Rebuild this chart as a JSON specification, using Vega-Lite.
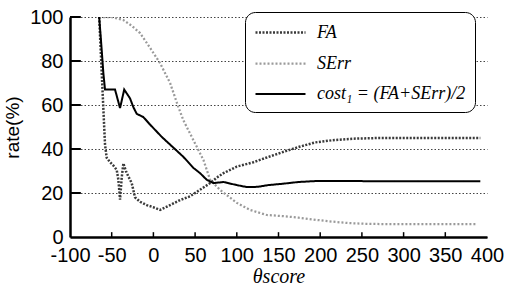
{
  "$schema": "https://vega.github.io/schema/vega-lite/v6.json",
  "width": 417,
  "height": 220,
  "autosize": "none",
  "padding": {"left": 70, "top": 17, "right": 18, "bottom": 52},
  "background": "white",
  "datasets": {
    "curves": [
    {"s":"FA","x":-65,"y":100},{"s":"FA","x":-62,"y":75},{"s":"FA","x":-59,"y":50},{"s":"FA","x":-58,"y":42},{"s":"FA","x":-56,"y":36},{"s":"FA","x":-52,"y":34},{"s":"FA","x":-48,"y":32.5},{"s":"FA","x":-44,"y":30.5},{"s":"FA","x":-42,"y":26},{"s":"FA","x":-40,"y":17},{"s":"FA","x":-38,"y":27},{"s":"FA","x":-36,"y":33.5},{"s":"FA","x":-33,"y":30},{"s":"FA","x":-30,"y":27.5},{"s":"FA","x":-26,"y":24.5},{"s":"FA","x":-22,"y":18},{"s":"FA","x":-16,"y":16},{"s":"FA","x":-8,"y":14.5},{"s":"FA","x":0,"y":13.5},{"s":"FA","x":8,"y":12.3},{"s":"FA","x":20,"y":14.5},{"s":"FA","x":32,"y":16.8},{"s":"FA","x":44,"y":18.5},{"s":"FA","x":52,"y":20.5},{"s":"FA","x":60,"y":22.5},{"s":"FA","x":68,"y":24.5},{"s":"FA","x":76,"y":27},{"s":"FA","x":84,"y":29},{"s":"FA","x":100,"y":32},{"s":"FA","x":120,"y":34},{"s":"FA","x":138,"y":36.4},{"s":"FA","x":155,"y":38.6},{"s":"FA","x":175,"y":41},{"s":"FA","x":194,"y":43},{"s":"FA","x":215,"y":44},{"s":"FA","x":240,"y":44.7},{"s":"FA","x":270,"y":45},{"s":"FA","x":300,"y":45},{"s":"FA","x":330,"y":45},{"s":"FA","x":360,"y":45},{"s":"FA","x":392,"y":45},
    {"s":"SErr","x":-65,"y":100},{"s":"SErr","x":-50,"y":100},{"s":"SErr","x":-36,"y":98.6},{"s":"SErr","x":-26,"y":96},{"s":"SErr","x":-16,"y":92.7},{"s":"SErr","x":-4,"y":86},{"s":"SErr","x":8,"y":79},{"s":"SErr","x":20,"y":70},{"s":"SErr","x":30,"y":59},{"s":"SErr","x":36,"y":53},{"s":"SErr","x":48,"y":44},{"s":"SErr","x":60,"y":35},{"s":"SErr","x":68,"y":26},{"s":"SErr","x":80,"y":21.4},{"s":"SErr","x":100,"y":15.5},{"s":"SErr","x":116,"y":12.3},{"s":"SErr","x":136,"y":10},{"s":"SErr","x":155,"y":9.5},{"s":"SErr","x":174,"y":8.8},{"s":"SErr","x":195,"y":7.8},{"s":"SErr","x":214,"y":7},{"s":"SErr","x":235,"y":6.3},{"s":"SErr","x":254,"y":6},{"s":"SErr","x":290,"y":5.8},{"s":"SErr","x":330,"y":5.8},{"s":"SErr","x":360,"y":5.8},{"s":"SErr","x":387,"y":5.8},
    {"s":"cost₁ = (FA+SErr)/2","x":-65,"y":100},{"s":"cost₁ = (FA+SErr)/2","x":-62,"y":85},{"s":"cost₁ = (FA+SErr)/2","x":-60,"y":74.5},{"s":"cost₁ = (FA+SErr)/2","x":-58,"y":67},{"s":"cost₁ = (FA+SErr)/2","x":-52,"y":67},{"s":"cost₁ = (FA+SErr)/2","x":-46,"y":67},{"s":"cost₁ = (FA+SErr)/2","x":-40,"y":58.6},{"s":"cost₁ = (FA+SErr)/2","x":-35,"y":67},{"s":"cost₁ = (FA+SErr)/2","x":-28,"y":63},{"s":"cost₁ = (FA+SErr)/2","x":-24,"y":59},{"s":"cost₁ = (FA+SErr)/2","x":-20,"y":56},{"s":"cost₁ = (FA+SErr)/2","x":-12,"y":54.5},{"s":"cost₁ = (FA+SErr)/2","x":-5,"y":51.5},{"s":"cost₁ = (FA+SErr)/2","x":0,"y":49.5},{"s":"cost₁ = (FA+SErr)/2","x":10,"y":45.5},{"s":"cost₁ = (FA+SErr)/2","x":20,"y":42},{"s":"cost₁ = (FA+SErr)/2","x":36,"y":36.4},{"s":"cost₁ = (FA+SErr)/2","x":48,"y":31.4},{"s":"cost₁ = (FA+SErr)/2","x":56,"y":29},{"s":"cost₁ = (FA+SErr)/2","x":64,"y":26},{"s":"cost₁ = (FA+SErr)/2","x":72,"y":24.5},{"s":"cost₁ = (FA+SErr)/2","x":84,"y":25},{"s":"cost₁ = (FA+SErr)/2","x":100,"y":23.6},{"s":"cost₁ = (FA+SErr)/2","x":112,"y":22.7},{"s":"cost₁ = (FA+SErr)/2","x":125,"y":22.8},{"s":"cost₁ = (FA+SErr)/2","x":138,"y":23.6},{"s":"cost₁ = (FA+SErr)/2","x":155,"y":24.2},{"s":"cost₁ = (FA+SErr)/2","x":174,"y":25},{"s":"cost₁ = (FA+SErr)/2","x":198,"y":25.5},{"s":"cost₁ = (FA+SErr)/2","x":230,"y":25.5},{"s":"cost₁ = (FA+SErr)/2","x":270,"y":25.3},{"s":"cost₁ = (FA+SErr)/2","x":310,"y":25.3},{"s":"cost₁ = (FA+SErr)/2","x":350,"y":25.3},{"s":"cost₁ = (FA+SErr)/2","x":392,"y":25.3}
    ],
    "xticks": [{"v":-50},{"v":0},{"v":50},{"v":100},{"v":150},{"v":200},{"v":250},{"v":300},{"v":350}],
    "yticks": [{"v":20},{"v":40},{"v":60},{"v":80},{"v":100}]
  },
  "layer": [
    {
      "data": {"name": "xticks"},
      "mark": {"type": "rule", "color": "black", "strokeWidth": 1.5},
      "encoding": {
        "x": {"field": "v", "type": "quantitative"},
        "y": {"datum": 0},
        "y2": {"datum": 2.2}
      }
    },
    {
      "data": {"name": "yticks"},
      "mark": {"type": "rule", "color": "black", "strokeWidth": 2},
      "encoding": {
        "y": {"field": "v", "type": "quantitative"},
        "x": {"datum": -100},
        "x2": {"datum": -87}
      }
    },
    {
      "data": {"name": "curves"},
      "mark": {"type": "line", "clip": true},
      "encoding": {
        "x": {"field": "x", "type": "quantitative"},
        "y": {"field": "y", "type": "quantitative"},
        "color": {"field": "s", "type": "nominal",
          "scale": {"domain": ["FA","SErr","cost₁ = (FA+SErr)/2"], "range": ["#3a3a3a","#9a9a9a","black"]},
          "legend": {"title": null, "orient": "none", "legendX": 175, "legendY": -5,
            "strokeColor": "black", "cornerRadius": 10, "fillColor": "white", "padding": 9,
            "symbolType": "M-1,0H4", "symbolSize": 400, "labelOffset": 40,
            "labelFont": "Liberation Serif", "labelFontStyle": "italic", "labelFontSize": 18, "labelColor": "black", "labelLimit": 300,
            "rowPadding": 10}},
        "strokeDash": {"field": "s", "type": "nominal",
          "scale": {"domain": ["FA","SErr","cost₁ = (FA+SErr)/2"], "range": [[2,1.5],[2,2],[1,0]]}},
        "strokeWidth": {"field": "s", "type": "nominal",
          "scale": {"domain": ["FA","SErr","cost₁ = (FA+SErr)/2"], "range": [2.5,2,3.2]}}
      }
    }
  ],
  "encoding": {
    "x": {"type": "quantitative",
      "scale": {"domain": [-100, 400], "nice": false, "zero": false},
      "axis": {"values": [-100,-50,0,50,100,150,200,250,300,350,400], "title": "θscore", "grid": false, "ticks": false,
        "labelExpr": "'' + datum.value",
        "domainColor": "black", "domainWidth": 2.5,
        "labelPadding": 8, "labelFont": "Liberation Sans", "labelFontSize": 20, "labelColor": "black",
        "labelFlush": false, "labelOverlap": false,
        "titleFont": "Liberation Serif", "titleFontStyle": "italic", "titleFontWeight": "normal", "titleFontSize": 20, "titleColor": "black", "titlePadding": 1}},
    "y": {"type": "quantitative",
      "scale": {"domain": [0, 100], "nice": false},
      "axis": {"values": [0,20,40,60,80,100], "title": "rate(%)", "grid": true, "gridColor": "#444", "gridDash": [1.5,2], "gridWidth": 1, "ticks": false,
        "domainColor": "black", "domainWidth": 2.5,
        "labelPadding": 7, "labelFont": "Liberation Sans", "labelFontSize": 20, "labelColor": "black",
        "labelFlush": false, "labelOverlap": false,
        "titleFont": "Liberation Sans", "titleFontWeight": "normal", "titleFontSize": 19, "titleColor": "black", "titlePadding": 7}}
  },
  "config": {"view": {"stroke": null}}
}
